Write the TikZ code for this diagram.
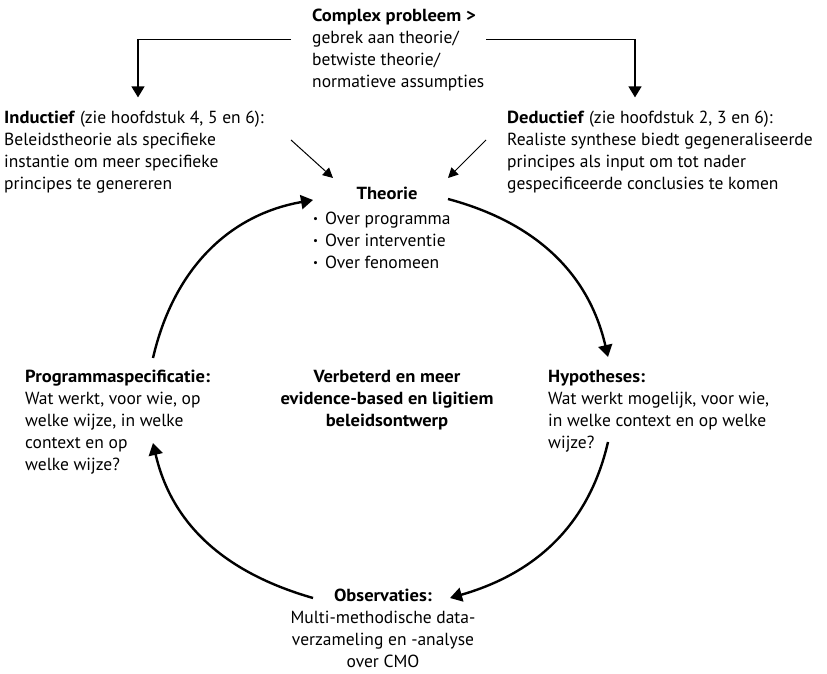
\documentclass[tikz,border=0pt]{standalone}
\usepackage{fontspec}
\setmainfont{PT Sans}[BoldFeatures={FakeStretch=1.06}]
\usepackage{tikz}
\usetikzlibrary{arrows.meta,calc}

\newcommand{\bul}{\raisebox{2pt}{\fontsize{11}{11}\selectfont\textbullet}\hspace{7pt}}

\begin{document}
\begin{tikzpicture}[x=1pt, y=1pt,
    txt/.style={inner sep=0pt, font=\fontsize{17.5}{22}\selectfont},
    conn/.style={line width=1.3pt, -{Triangle[width=13pt,length=11pt]}},
    diag/.style={line width=1pt, -{Triangle[width=10pt,length=10pt]}},
    cycl/.style={line width=2.4pt, -{Triangle[width=14pt,length=12pt]}}]
    \useasboundingbox (0,0) rectangle (827,674);

    % Complex probleem
    \node[txt, anchor=base west] (prob) at (312,652) {
        \begin{tabular}[t]{@{}l@{}}
            \textbf{Complex probleem >} \\
            gebrek aan theorie/ \\
            betwiste theorie/ \\
            normatieve assumpties
        \end{tabular}
    };

    % Inductief
    \node[txt, anchor=base west] (ind) at (4,550) {
        \begin{tabular}[t]{@{}l@{}}
            \textbf{Inductief} (zie hoofdstuk 4, 5 en 6): \\
            Beleidstheorie als specifieke \\
            instantie om meer specifieke \\
            principes te genereren
        \end{tabular}
    };

    % Deductief
    \node[txt, anchor=base west] (ded) at (507,550) {
        \begin{tabular}[t]{@{}l@{}}
            \textbf{Deductief} (zie hoofdstuk 2, 3 en 6): \\
            Realiste synthese biedt gegeneraliseerde \\
            principes als input om tot nader \\
            gespecificeerde conclusies te komen
        \end{tabular}
    };

    % Theorie
    \node[txt, anchor=base] (theo) at (387,474) {\textbf{Theorie}};
    \node[txt, anchor=base west] (over) at (313,449) {
        \begin{tabular}[t]{@{}l@{}}
            \bul Over programma \\
            \bul Over interventie \\
            \bul Over fenomeen
        \end{tabular}
    };

    % Programmaspecificatie
    \node[txt, anchor=base west] (prog) at (25,291) {
        \begin{tabular}[t]{@{}l@{}}
            \textbf{Programmaspecificatie:} \\
            Wat werkt, voor wie, op \\
            welke wijze, in welke \\
            context en op \\
            welke wijze?
        \end{tabular}
    };

    % Midden
    \node[txt, anchor=base] (mid) at (387,291) {
        \begin{tabular}[t]{@{}c@{}}
            \textbf{Verbeterd en meer} \\
            \textbf{evidence-based en ligitiem} \\
            \textbf{beleidsontwerp}
        \end{tabular}
    };

    % Hypotheses
    \node[txt, anchor=base west] (hyp) at (548,291) {
        \begin{tabular}[t]{@{}l@{}}
            \textbf{Hypotheses:} \\
            Wat werkt mogelijk, voor wie, \\
            in welke context en op welke \\
            wijze?
        \end{tabular}
    };

    % Observaties
    \node[txt, anchor=base] (obs) at (383,72) {
        \begin{tabular}[t]{@{}c@{}}
            \textbf{Observaties:} \\
            Multi-methodische data- \\
            verzameling en -analyse \\
            over CMO
        \end{tabular}
    };

    % pijlen vanaf probleem
    \draw[conn] ([shift={(-21pt,11pt)}]prob.west) -| ([shift={(134pt,11pt)}]ind.north west);
    \draw[conn] ([shift={(174pt,11pt)}]prob.west) -| ([shift={(128pt,11pt)}]ded.north west);
    \draw[diag] ([shift={(-96pt,60pt)}]theo.base) -- ([shift={(-54pt,22pt)}]theo.base);
    \draw[diag] ([shift={(99pt,60pt)}]theo.base) -- ([shift={(61pt,22pt)}]theo.base);

    % cyclus
    \draw[cycl] ([shift={(128pt,25pt)}]prog.base west) to[out=77, in=190] ([shift={(-74pt,0pt)}]theo.base);
    \draw[cycl] ([shift={(61pt,1pt)}]theo.base) to[out=-15, in=103] ([shift={(60pt,26pt)}]hyp.base west);
    \draw[cycl] ([shift={(60pt,-59pt)}]hyp.base west) to[out=-103, in=16] ([shift={(67pt,4pt)}]obs.base);
    \draw[cycl] ([shift={(-70pt,4pt)}]obs.base) to[out=164, in=-77] ([shift={(128pt,-60pt)}]prog.base west);
\end{tikzpicture}
\end{document}
